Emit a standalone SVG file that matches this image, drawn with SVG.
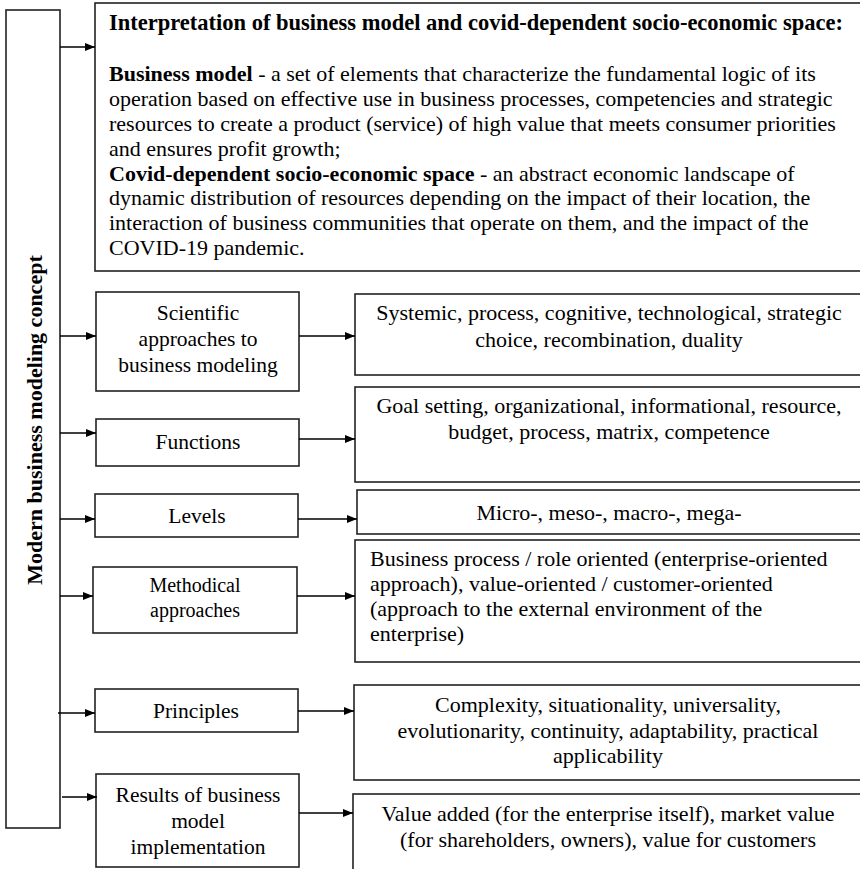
<svg xmlns="http://www.w3.org/2000/svg" width="860" height="869" viewBox="0 0 860 869" font-family="'Liberation Serif', 'Times New Roman', Tinos, 'DejaVu Serif', serif">
<defs>
<marker id="ah" viewBox="0 0 10 10" refX="10" refY="5" markerWidth="10" markerHeight="10" markerUnits="userSpaceOnUse" orient="auto">
<path d="M0,1 L10,5 L0,9 Z" fill="#000"/>
</marker>
</defs>
<style>
rect{fill:#fff;stroke:#222;stroke-width:1.6}
text{font-family:'Liberation Serif','Times New Roman',Tinos,'DejaVu Serif',serif;font-size:22px;fill:#000}
.c{text-anchor:middle}
.b{font-weight:bold}
.t{font-size:22.5px}
.l{font-size:21.5px}
.s{font-size:20px}
.conn line{stroke:#000;stroke-width:1.6;marker-end:url(#ah)}
</style>
<rect x="0" y="0" width="860" height="869" style="fill:#fff;stroke:none"/>
<g id="concept">
<rect x="6" y="10" width="54" height="818"/>
<text class="b c" style="font-size:22px" transform="translate(42,420) rotate(-90)">Modern business modeling concept</text>
</g>
<g id="interpretation">
<rect x="95" y="3" width="767" height="268"/>
<text class="b t" x="109" y="30">Interpretation of business model and covid-dependent socio-economic space:</text>
<text x="109" y="81"><tspan class="b">Business model</tspan> - a set of elements that characterize the fundamental logic of its</text>
<text x="109" y="106">operation based on effective use in business processes, competencies and strategic</text>
<text x="109" y="131">resources to create a product (service) of high value that meets consumer priorities</text>
<text x="109" y="156">and ensures profit growth;</text>
<text x="109" y="181"><tspan class="b">Covid-dependent socio-economic space</tspan> - an abstract economic landscape of</text>
<text x="109" y="205">dynamic distribution of resources depending on the impact of their location, the</text>
<text x="109" y="230">interaction of business communities that operate on them, and the impact of the</text>
<text x="109" y="255">COVID-19 pandemic.</text>
</g>
<g id="scientific">
<rect x="96" y="292" width="203" height="99"/>
<text class="c l" x="198" y="320">Scientific</text>
<text class="c l" x="198" y="346">approaches to</text>
<text class="c l" x="198" y="372">business modeling</text>
</g>
<g id="scientific-detail">
<rect x="355" y="294" width="507" height="81"/>
<text class="c" x="609" y="320">Systemic, process, cognitive, technological, strategic</text>
<text class="c" x="609" y="347">choice, recombination, duality</text>
</g>
<g id="functions">
<rect x="96" y="419" width="203" height="47"/>
<text class="c l" x="198" y="449">Functions</text>
</g>
<g id="functions-detail">
<rect x="355" y="387" width="507" height="95"/>
<text class="c" x="609" y="413">Goal setting, organizational, informational, resource,</text>
<text class="c" x="609" y="439">budget, process, matrix, competence</text>
</g>
<g id="levels">
<rect x="95" y="494" width="203" height="43"/>
<text class="c l" x="197" y="523">Levels</text>
</g>
<g id="levels-detail">
<rect x="357" y="490" width="505" height="44"/>
<text class="c" x="609" y="520">Micro-, meso-, macro-, mega-</text>
</g>
<g id="methodical">
<rect x="93" y="567" width="204" height="66"/>
<text class="c s" x="195" y="592">Methodical</text>
<text class="c s" x="195" y="617">approaches</text>
</g>
<g id="methodical-detail">
<rect x="355" y="540" width="507" height="122"/>
<text x="370" y="566">Business process / role oriented (enterprise-oriented</text>
<text x="370" y="591">approach), value-oriented / customer-oriented</text>
<text x="370" y="616">(approach to the external environment of the</text>
<text x="370" y="641">enterprise)</text>
</g>
<g id="principles">
<rect x="95" y="689" width="203" height="43"/>
<text class="c l" x="196" y="718">Principles</text>
</g>
<g id="principles-detail">
<rect x="354" y="685" width="508" height="95"/>
<text class="c" x="608" y="712">Complexity, situationality, universality,</text>
<text class="c" x="608" y="738">evolutionarity, continuity, adaptability, practical</text>
<text class="c" x="608" y="763">applicability</text>
</g>
<g id="results">
<rect x="96" y="774" width="203" height="93"/>
<text class="c l" x="198" y="802">Results of business</text>
<text class="c l" x="198" y="828">model</text>
<text class="c l" x="198" y="854">implementation</text>
</g>
<g id="results-detail">
<rect x="353" y="794" width="509" height="85"/>
<text class="c" x="608" y="821">Value added (for the enterprise itself), market value</text>
<text class="c" x="608" y="847">(for shareholders, owners), value for customers</text>
</g>
<g id="connectors" class="conn">
<line x1="60" y1="47" x2="95" y2="47"/>
<line x1="60" y1="336" x2="96" y2="336"/>
<line x1="60" y1="433" x2="96" y2="433"/>
<line x1="60" y1="519" x2="95" y2="519"/>
<line x1="60" y1="596" x2="93" y2="596"/>
<line x1="58" y1="713" x2="95" y2="713"/>
<line x1="62" y1="797" x2="97" y2="797"/>
<line x1="299" y1="336" x2="355" y2="336"/>
<line x1="299" y1="439" x2="355" y2="439"/>
<line x1="298" y1="519" x2="357" y2="519"/>
<line x1="297" y1="596" x2="355" y2="596"/>
<line x1="298" y1="711" x2="354" y2="711"/>
<line x1="299" y1="813" x2="353" y2="813"/>
</g>
</svg>
